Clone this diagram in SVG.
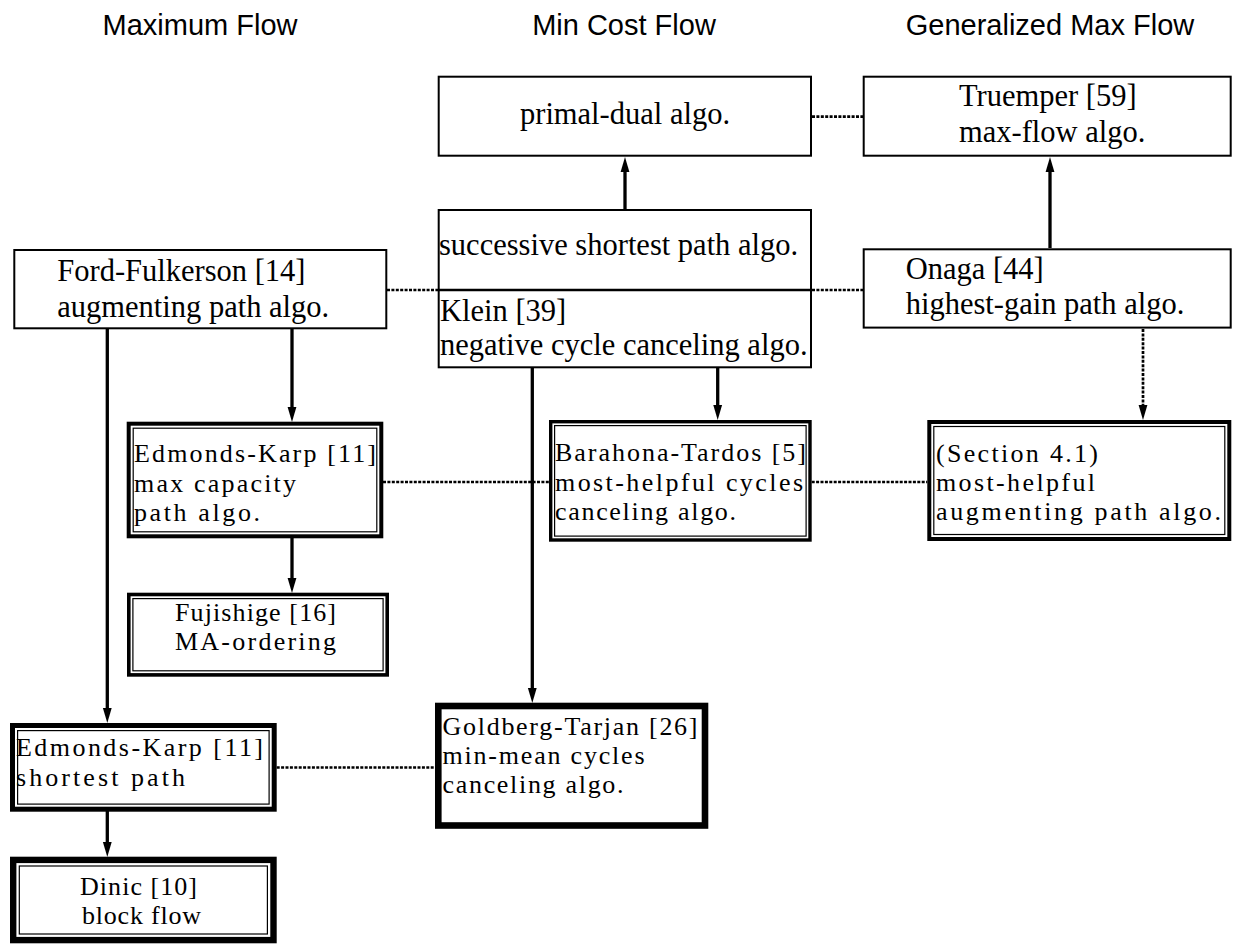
<svg xmlns="http://www.w3.org/2000/svg" width="1233" height="944" viewBox="0 0 1233 944">
<style>
.hdr{font-family:"Liberation Sans",Arial,sans-serif;font-size:29px;fill:#000;text-anchor:middle}
.t{font-family:"Liberation Serif","Times New Roman",serif;font-size:30.5px;fill:#000}
.s{font-size:26px}
.c{text-anchor:middle}
.b{fill:#fff;stroke:#000;stroke-width:2}
.o{fill:#fff;stroke:#000}
.i{fill:none;stroke:#000;stroke-width:1.2}
.e{fill:none;stroke:#000;stroke-width:3.3}
.d{fill:none;stroke:#000;stroke-width:2.7;stroke-dasharray:3 1.4}
</style>
<defs>
<marker id="ah" markerUnits="userSpaceOnUse" markerWidth="16" markerHeight="10" viewBox="0 0 16 10" refX="2" refY="5" orient="auto">
<path d="M0,0.6 L15,5 L0,9.4 z" fill="#000"/>
</marker>
</defs>
<rect width="1233" height="944" fill="#fff"/>

<g id="headers">
<text class="hdr" x="200" y="35">Maximum Flow</text>
<text class="hdr" x="624" y="35">Min Cost Flow</text>
<text class="hdr" x="1050" y="35">Generalized Max Flow</text>
</g>

<g id="connectors">
<line class="e" x1="625" y1="209" x2="625" y2="170" marker-end="url(#ah)"/>
<line class="e" x1="1050" y1="248" x2="1050" y2="170" marker-end="url(#ah)"/>
<line class="d" x1="1143" y1="329" x2="1143" y2="407"/>
<line class="e" x1="1143" y1="405" x2="1143" y2="407" stroke-width="2.7" marker-end="url(#ah)"/>
<line class="e" x1="292" y1="329" x2="292" y2="409" marker-end="url(#ah)"/>
<line class="e" x1="107.3" y1="329" x2="107.3" y2="710" stroke-width="4" marker-end="url(#ah)"/>
<line class="e" x1="292" y1="538" x2="292" y2="580" marker-end="url(#ah)"/>
<line class="e" x1="717.7" y1="368" x2="717.7" y2="407" marker-end="url(#ah)"/>
<line class="e" x1="532.3" y1="368" x2="532.3" y2="690" marker-end="url(#ah)"/>
<line class="e" x1="107.3" y1="811" x2="107.3" y2="844" stroke-width="4" marker-end="url(#ah)"/>
<line class="d" x1="812" y1="116.7" x2="863" y2="116.7"/>
<line class="d" x1="387" y1="290" x2="438" y2="290"/>
<line class="d" x1="812" y1="290" x2="863" y2="290"/>
<line class="d" x1="383" y1="482" x2="549" y2="482"/>
<line class="d" x1="811.7" y1="482" x2="927.3" y2="482"/>
<line class="d" x1="276.7" y1="767.5" x2="435" y2="767.5" stroke-width="2.3"/>
</g>

<g id="primal-dual">
<rect class="b" x="438.7" y="76.7" width="372.3" height="79"/>
<text class="t c" x="625" y="123.5">primal-dual algo.</text>
</g>

<g id="truemper">
<rect class="b" x="863.7" y="76.7" width="367" height="79"/>
<text class="t" x="959" y="106">Truemper [59]</text>
<text class="t" x="959" y="141.5">max-flow algo.</text>
</g>

<g id="successive-klein">
<rect class="b" x="438.7" y="210" width="372.3" height="157.3"/>
<line x1="438.7" y1="290" x2="811" y2="290" stroke="#000" stroke-width="2.7"/>
<text class="t" x="439" y="255">successive shortest path algo.</text>
<text class="t" x="440" y="320.5">Klein [39]</text>
<text class="t" x="440" y="354.5">negative cycle canceling algo.</text>
</g>

<g id="onaga">
<rect class="b" x="863.7" y="249.3" width="367" height="78.3"/>
<text class="t" x="905.7" y="278.5">Onaga [44]</text>
<text class="t" x="905.7" y="313.5">highest-gain path algo.</text>
</g>

<g id="ford-fulkerson">
<rect class="b" x="14.3" y="250" width="372" height="78.3"/>
<text class="t" x="57.3" y="281">Ford-Fulkerson [14]</text>
<text class="t" x="57.3" y="316.5">augmenting path algo.</text>
</g>

<g id="edmonds-karp-capacity">
<rect class="o" x="128.7" y="423.7" width="252.6" height="112.6" stroke-width="4"/>
<rect class="i" x="133.2" y="428.2" width="243.6" height="103.6"/>
<text class="t s" x="134" y="462" textLength="242">Edmonds-Karp [11]</text>
<text class="t s" x="134" y="491.5" textLength="162">max capacity</text>
<text class="t s" x="134" y="520.5" textLength="126">path algo.</text>
</g>

<g id="barahona-tardos">
<rect class="o" x="550.7" y="421.7" width="259.3" height="118.3" stroke-width="3.4"/>
<rect class="i" x="554.6" y="425.6" width="251.5" height="110.5"/>
<text class="t s" x="555" y="461" textLength="251">Barahona-Tardos [5]</text>
<text class="t s" x="555" y="490.5" textLength="248">most-helpful cycles</text>
<text class="t s" x="555" y="519.5" textLength="181">canceling algo.</text>
</g>

<g id="section-4-1">
<rect class="o" x="929.3" y="422" width="300" height="117" stroke-width="4"/>
<rect class="i" x="933.8" y="426.5" width="291" height="108"/>
<text class="t s" x="936" y="461.5" textLength="162">(Section 4.1)</text>
<text class="t s" x="936" y="490.5" textLength="159">most-helpful</text>
<text class="t s" x="936" y="519.5" textLength="285">augmenting path algo.</text>
</g>

<g id="fujishige">
<rect class="o" x="128.8" y="594.5" width="258.4" height="80.4" stroke-width="3.6"/>
<rect class="i" x="132.9" y="598.6" width="250.2" height="72.2"/>
<text class="t s" x="175" y="621" textLength="161">Fujishige [16]</text>
<text class="t s" x="175" y="650" textLength="161">MA-ordering</text>
</g>

<g id="edmonds-karp-shortest">
<rect class="o" x="12.5" y="725.5" width="261.7" height="83.7" stroke-width="5"/>
<rect class="i" x="17.6" y="730.6" width="251.5" height="73.5"/>
<text class="t s" x="16" y="756" textLength="247">Edmonds-Karp [11]</text>
<text class="t s" x="16" y="786" textLength="169">shortest path</text>
</g>

<g id="dinic">
<rect class="o" x="13.2" y="859.9" width="260.3" height="80.2" stroke-width="6.4"/>
<rect class="i" x="19.3" y="866" width="248.1" height="68"/>
<text class="t s" x="80" y="894.5" textLength="117">Dinic [10]</text>
<text class="t s" x="82" y="923.5" textLength="119">block flow</text>
</g>

<g id="goldberg-tarjan">
<rect class="o" x="438.3" y="706" width="266.7" height="119.5" stroke-width="6.6"/>
<text class="t s" x="442.5" y="734.5" textLength="255">Goldberg-Tarjan [26]</text>
<text class="t s" x="442.5" y="764" textLength="202">min-mean cycles</text>
<text class="t s" x="442.5" y="793" textLength="181">canceling algo.</text>
</g>
</svg>
